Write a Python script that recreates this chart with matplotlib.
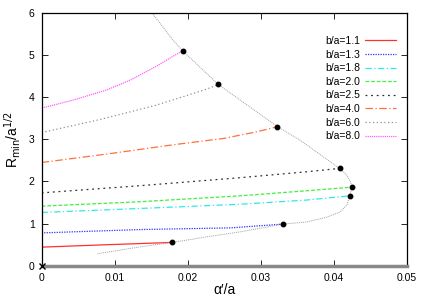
import matplotlib
matplotlib.use("Agg")
import matplotlib.pyplot as plt

# ── Data ──────────────────────────────────────────────────────────────────────

LABELS = ["b/a=1.1", "b/a=1.3", "b/a=1.8", "b/a=2.0",
          "b/a=2.5", "b/a=4.0", "b/a=6.0", "b/a=8.0"]

x_11 = [0.0, 0.0089, 0.0179]
y_11 = [0.443, 0.50, 0.555]
x_13 = [0.0, 0.0135, 0.0259, 0.0331]
y_13 = [0.78, 0.86, 0.90, 0.99]
x_18 = [0.0, 0.0135, 0.0272, 0.0363, 0.0422]
y_18 = [1.265, 1.36, 1.46, 1.56, 1.66]
x_20 = [0.0, 0.0135, 0.0272, 0.0363, 0.0425]
y_20 = [1.415, 1.52, 1.66, 1.78, 1.865]
x_25 = [0.0, 0.0135, 0.0272, 0.0363, 0.0408]
y_25 = [1.73, 1.90, 2.09, 2.23, 2.31]
x_40 = [0.0, 0.0089, 0.0180, 0.0249, 0.0295, 0.0323]
y_40 = [2.45, 2.65, 2.87, 3.02, 3.18, 3.30]
x_60 = [0.0, 0.0080, 0.0155, 0.0190, 0.0226, 0.0242]
y_60 = [3.16, 3.47, 3.80, 3.99, 4.19, 4.30]
x_80 = [0.0, 0.0043, 0.0089, 0.0121, 0.0158, 0.0180, 0.0193]
y_80 = [3.74, 3.93, 4.17, 4.40, 4.74, 4.97, 5.10]

# envelope through the end points
x_env = [0.0151, 0.0180, 0.0193, 0.0242, 0.0323, 0.0354, 0.0408, 0.0418,
         0.0423, 0.0425, 0.0422, 0.0418, 0.0409, 0.0390, 0.0363, 0.0331,
         0.0272, 0.0226, 0.0179, 0.0135, 0.0076]
y_env = [6.0, 5.35, 5.10, 4.30, 3.30, 2.98, 2.31, 2.15,
         1.99, 1.865, 1.66, 1.44, 1.28, 1.15, 1.04, 0.99,
         0.806, 0.687, 0.555, 0.45, 0.285]

# end points (black dots)
x_end = [0.0179, 0.0331, 0.0422, 0.0425, 0.0408, 0.0323, 0.0242, 0.0193]
y_end = [0.555, 0.99, 1.66, 1.865, 2.31, 3.30, 4.30, 5.10]

series = [(x_11, y_11), (x_13, y_13), (x_18, y_18), (x_20, y_20),
          (x_25, y_25), (x_40, y_40), (x_60, y_60), (x_80, y_80)]

COLOURS = ["#ff3030", "#3030ff", "#30e8e8", "#40f040",
           "#303030", "#ff7040", "#909090", "#ff60ff"]
STYLES = ["-", (0, (1, 1)), (0, (5, 2, 1, 2)), (0, (3, 1.5)),
          (0, (1.5, 3)), (0, (6, 2, 1, 2)), (0, (1, 2)), (0, (1, 0.7))]

plt.rcParams["font.family"] = ["Liberation Sans", "DejaVu Sans"]

fig = plt.figure(figsize=(4.25, 2.98), dpi=100)
ax = fig.add_axes([0.098, 0.108, 0.859, 0.849])

for (xs, ys), lab, col, ls in zip(series, LABELS, COLOURS, STYLES):
    ax.plot(xs, ys, color=col, linestyle=ls, linewidth=0.9, label=lab)

ax.plot(x_env, y_env, color="#a0a0a0", linestyle=(0, (1, 1)), linewidth=0.7)
ax.plot(x_end, y_end, "o", color="black", markersize=3.2, zorder=5)
ax.plot([0], [0], marker="x", color="black", markersize=4, mew=1,
        clip_on=False, zorder=6)

ax.set_xlim(0, 0.05)
ax.set_ylim(0, 6)
ax.set_xticks([0, 0.01, 0.02, 0.03, 0.04, 0.05])
ax.set_xticklabels(["0", "0.01", "0.02", "0.03", "0.04", "0.05"])
ax.set_yticks(range(7))
ax.tick_params(direction="in", top=True, right=True, length=4,
               width=0.6, labelsize=7.5, pad=5)

for side in ["top", "left", "right"]:
    ax.spines[side].set_linewidth(0.9)
ax.spines["bottom"].set_color("#888888")
ax.spines["bottom"].set_linewidth(2.5)

ax.set_xlabel("α′/a", fontsize=10, labelpad=0)
ax.set_ylabel(r"R$_{\mathrm{min}}$/a$^{1/2}$", fontsize=10, labelpad=4)

ax.legend(loc="upper right", bbox_to_anchor=(1.0, 0.95), frameon=False,
          markerfirst=False, fontsize=7.5, handlelength=3.0,
          handletextpad=0.5, labelspacing=0.35, borderaxespad=0.6)

fig.savefig("out.png", dpi=100)
